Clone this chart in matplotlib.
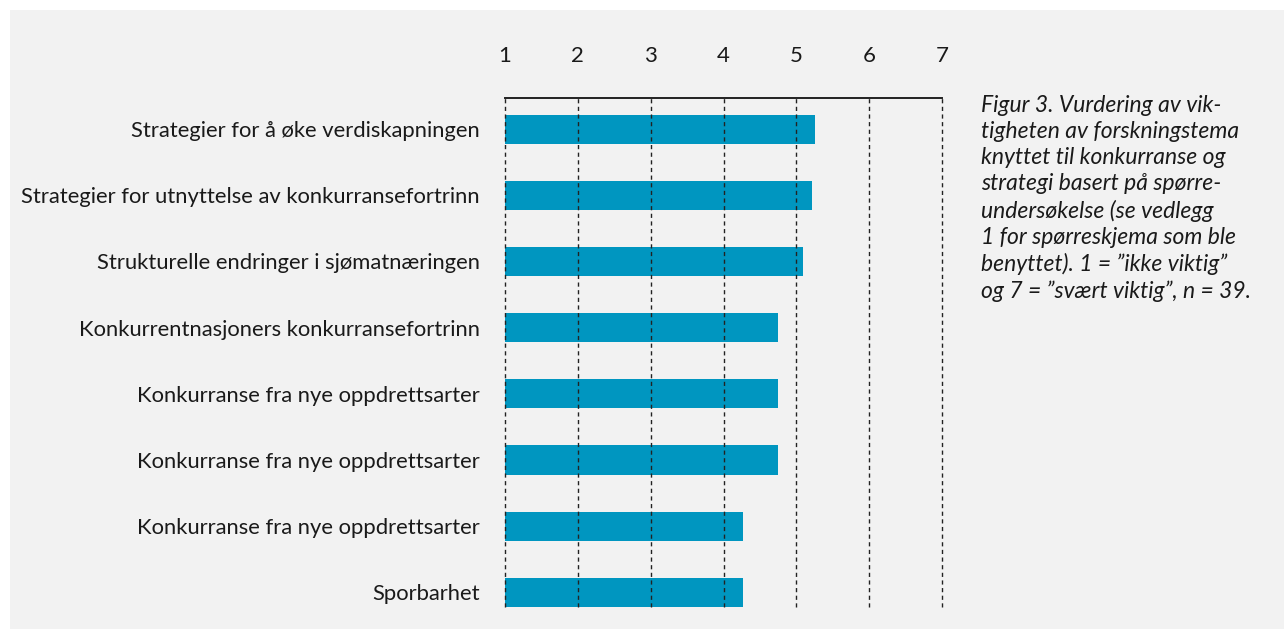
import matplotlib.pyplot as plt
from matplotlib.patches import Rectangle


categories = [
    'Strategier for å øke verdiskapningen',
    'Strategier for utnyttelse av konkurransefortrinn',
    'Strukturelle endringer i sjømatnæringen',
    'Konkurrentnasjoners konkurransefortrinn',
    'Konkurranse fra nye oppdrettsarter',
    'Konkurranse fra nye oppdrettsarter',
    'Konkurranse fra nye oppdrettsarter',
    'Sporbarhet',
]
values = [5.26, 5.22, 5.09, 4.75, 4.75, 4.75, 4.27, 4.27]
ticks = [1, 2, 3, 4, 5, 6, 7]

caption = ('Figur 3. Vurdering av vik-\n'
           'tigheten av forskningstema\n'
           'knyttet til konkurranse og\n'
           'strategi basert på spørre-\n'
           'undersøkelse (se vedlegg\n'
           '1 for spørreskjema som ble\n'
           'benyttet). 1 = ”ikke viktig”\n'
           'og 7 = ”svært viktig”, n = 39.')

bg = '#f2f2f2'
bar_color = '#0096c0'
text_color = '#1a1a1a'

plt.rcParams['font.family'] = ['Lato', 'DejaVu Sans']

W, H = 1284, 629
fig = plt.figure(figsize=(W / 100, H / 100), dpi=100)
fig.patch.set_facecolor('white')
fig.add_artist(Rectangle((10 / W, 0), 1, 1 - 10 / H, transform=fig.transFigure,
                         facecolor=bg, edgecolor='none', zorder=-10))

# axes box in pixels: x 505..942, y 98..607
ax = fig.add_axes([505 / W, 1 - 607 / H, (942 - 505) / W, (607 - 98) / H])
ax.set_facecolor('none')

pos = list(range(len(categories)))
ax.barh(pos, [v - 1 for v in values], left=1, height=0.44, color=bar_color, zorder=2)

ax.set_xlim(1, 7)
ax.set_ylim(len(categories) - 1 + 0.22, -0.47)
ax.xaxis.tick_top()
ax.set_xticks(ticks)
ax.set_xticklabels([str(t) for t in ticks])
ax.tick_params(axis='x', length=0, pad=23, labelsize=16, labelcolor=text_color)
ax.set_yticks(pos)
ax.set_yticklabels(categories)
ax.tick_params(axis='y', length=0, pad=18, labelsize=15.8, labelcolor=text_color)

for t in ticks:
    ax.axvline(t, color='#222222', linestyle=(0, (3, 2.5)), linewidth=1.0,
               zorder=3, clip_on=False)

for side in ['left', 'right', 'bottom']:
    ax.spines[side].set_visible(False)
ax.spines['top'].set_linewidth(1.4)
ax.spines['top'].set_color('#222222')

fig.text(981 / W, 1 - 95 / H, caption, ha='left', va='top', fontsize=16.5,
         style='italic', color=text_color, linespacing=1.3)

fig.savefig('out.png', dpi=100, facecolor=fig.get_facecolor())
